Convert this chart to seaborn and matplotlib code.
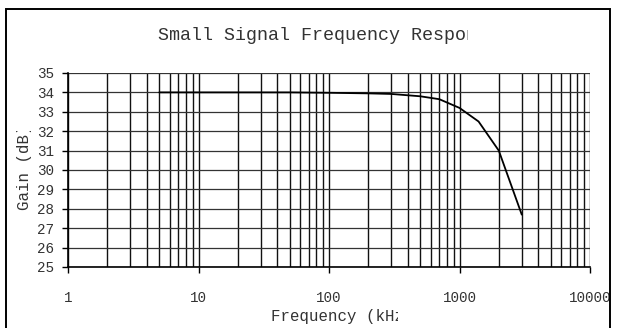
import numpy as np
import pandas as pd
import matplotlib
matplotlib.use("Agg")
import matplotlib.pyplot as plt
from matplotlib.patches import Rectangle
from matplotlib.transforms import Bbox, TransformedBbox
from matplotlib.ticker import LogLocator, FixedLocator, NullFormatter
import seaborn as sns

# Measured small-signal gain versus frequency
freq_khz = [5, 10, 20, 50, 100, 200, 300, 500, 700, 1000, 1400, 2000, 3000]
gain_db = [34.0, 34.0, 34.0, 34.0, 33.98, 33.95, 33.92, 33.8, 33.65, 33.2, 32.5, 31.0, 27.7]

x_ticks = [1, 10, 100, 1000, 10000]
x_tick_labels = ["1", "10", "100", "1000", "10000"]
y_ticks = list(range(25, 36))

title_text = "Small Signal Frequency Response"
x_label = "Frequency (kHz)"
y_label = "Gain (dB)"

sns.set_style("white")
plt.rcParams["font.family"] = ["Liberation Mono", "DejaVu Sans Mono"]

W, H = 619, 328
fig = plt.figure(figsize=(W / 100, H / 100), dpi=100)
fig.patch.set_facecolor("white")


def px(x0, y0, x1, y1):
    """Figure-pixel box (origin top-left) -> figure fraction rect."""
    return [x0 / W, 1 - y1 / H, (x1 - x0) / W, (y1 - y0) / H]


ax = fig.add_axes(px(68, 73, 590, 267))

df = pd.DataFrame({"freq": freq_khz, "gain": gain_db})
sns.lineplot(data=df, x="freq", y="gain", ax=ax, color="black", linewidth=1.3,
             estimator=None, sort=False)

ax.set_xscale("log")
ax.set_xlim(1, 10000)
ax.set_ylim(25, 35)

ax.xaxis.set_major_locator(FixedLocator(x_ticks))
ax.set_xticklabels(x_tick_labels)
ax.xaxis.set_minor_locator(LogLocator(base=10, subs=np.arange(2, 10)))
ax.xaxis.set_minor_formatter(NullFormatter())
ax.set_yticks(y_ticks)
ax.set_yticklabels([str(v) for v in y_ticks])

ax.grid(True, which="major", axis="y", color="#333333", linewidth=0.9)
ax.grid(True, which="both", axis="x", color="#111111", linewidth=1.0)
ax.set_axisbelow(True)

for side in ["top", "right"]:
    ax.spines[side].set_visible(False)
for side in ["left", "bottom"]:
    ax.spines[side].set_color("black")
    ax.spines[side].set_linewidth(1.2)

ax.tick_params(axis="x", which="major", direction="out", length=4, width=1,
               color="black", labelsize=10.3, pad=13, bottom=True)
ax.tick_params(axis="x", which="minor", length=0)
ax.tick_params(axis="y", which="major", direction="out", length=4, width=1,
               color="black", labelsize=10.3, pad=6, left=True)
for lbl in ax.get_xticklabels() + ax.get_yticklabels():
    lbl.set_color("#333333")
ax.set_xlabel("")
ax.set_ylabel("")

# Chart-area border (open at the bottom edge)
frame = Rectangle((6 / W, -0.05), (610 - 6) / W, 1.05 - 9 / H, transform=fig.transFigure,
                  fill=False, edgecolor="black", linewidth=1.4, clip_on=False)
fig.add_artist(frame)

cx = (68 + 590) / 2


def clipped_text(x, y, s, size, clip, rotation=0):
    t = fig.text(x / W, 1 - y / H, s, ha="center", va="center", fontsize=size,
                 color="#333333", rotation=rotation)
    b = Bbox.from_extents(clip[0] / W, 1 - clip[3] / H, clip[2] / W, 1 - clip[1] / H)
    t.set_clip_box(TransformedBbox(b, fig.transFigure))
    t.set_clip_on(True)
    return t


clipped_text(cx, 36, title_text, 13.2, (0, 0, 468, 60))
clipped_text(342.5, 316, x_label, 11.3, (0, 300, 398, 328))
clipped_text(25, 167.5, y_label, 11.3, (0, 131, 60, 328), rotation=90)

fig.savefig("out.png", dpi=100, facecolor="white")
